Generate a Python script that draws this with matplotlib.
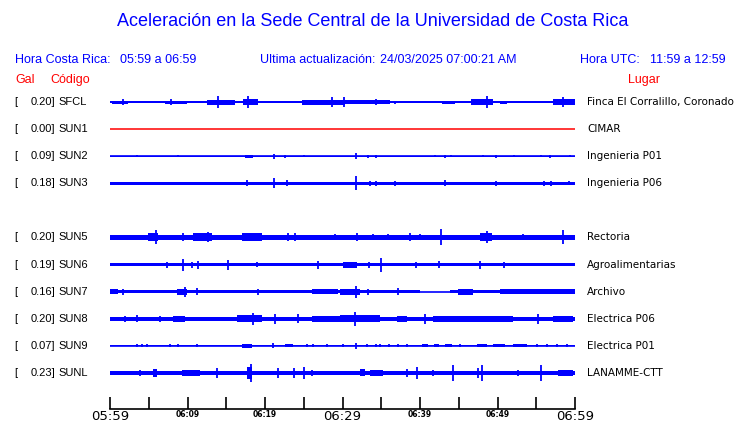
import matplotlib
matplotlib.use("Agg")
import matplotlib.pyplot as plt
import matplotlib.transforms as mtransforms

# estaciones (None = fila vacia, SUN4 no aparece)
codes = ["SFCL", "SUN1", "SUN2", "SUN3", None, "SUN5", "SUN6", "SUN7", "SUN8", "SUN9", "SUNL"]
gal = [0.20, 0.00, 0.09, 0.18, None, 0.20, 0.19, 0.16, 0.20, 0.07, 0.23]
places = ["Finca El Corralillo, Coronado", "CIMAR", "Ingenieria P01", "Ingenieria P06", None,
          "Rectoria", "Agroalimentarias", "Archivo", "Electrica P06", "Electrica P01", "LANAMME-CTT"]

# semi-amplitud del ruido de fondo (px)
base = [0.8, 0.0, 0.5, 1.6, None, 2.4, 1.8, 1.8, 2.2, 0.5, 1.8]

# eventos: (minuto inicio, minuto fin, semi-amplitud px); inicio == fin -> pico
ev_sfcl = [(0.2, 2.3, 1.5), (1.7, 1.7, 3), (3.4, 4.3, 1.3), (5.4, 5.9, 1.3), (7.1, 9.9, 1.5), (7.9, 7.9, 3),
           (11.1, 12.5, 1.3), (12.5, 16.1, 2.5), (13.9, 13.9, 6), (17.2, 19.1, 3), (17.8, 17.8, 6),
           (19.6, 22.2, 1.2), (24.8, 30.3, 2.5), (28.6, 28.6, 5), (29.7, 36.1, 2), (30.2, 30.2, 5),
           (34.3, 34.3, 3), (36.8, 36.8, 1.5), (40.9, 40.9, 1.3), (42.8, 44.5, 1.5), (45.4, 46.1, 1.3),
           (46.6, 49.4, 3), (48.6, 48.6, 6), (50.3, 51.2, 1.5), (57.2, 60.0, 3), (58.5, 58.5, 5)]
ev_sun1 = []
ev_sun2 = [(3.5, 3.5, 1.2), (8.8, 8.8, 1.0), (17.4, 18.5, 1.5), (21.2, 21.2, 2.5), (22.6, 22.6, 1.5),
           (25.0, 25.0, 1.0), (31.7, 31.7, 3), (33.3, 33.3, 1.5), (34.3, 34.3, 1.5), (41.9, 41.9, 1.0),
           (43.2, 43.2, 1.5), (44.0, 44.0, 1.2), (48.1, 48.1, 1.3), (49.8, 49.8, 1.5), (52.1, 52.1, 1.0),
           (55.6, 55.6, 1.0), (56.8, 56.8, 1.5), (59.4, 59.4, 1.0)]
ev_sun3 = [(17.7, 17.7, 3), (21.2, 21.2, 5), (22.8, 22.8, 3), (31.7, 31.7, 7), (33.5, 33.5, 2.5),
           (34.3, 34.3, 2.5), (36.8, 36.8, 2.5), (43.2, 43.2, 3), (49.8, 49.8, 2.5), (56.0, 56.0, 2.5),
           (56.9, 56.9, 2.5), (59.2, 59.2, 2)]
ev_sun5 = [(4.9, 6.2, 4), (5.9, 5.9, 7), (9.4, 9.4, 4), (10.7, 13.2, 4), (12.6, 12.6, 5), (17.0, 19.6, 4),
           (23.0, 23.0, 4), (23.9, 23.9, 4), (29.0, 29.0, 3), (31.9, 31.9, 4), (33.9, 33.9, 3),
           (35.9, 35.9, 3), (38.7, 38.7, 4), (40.0, 40.0, 3), (42.7, 42.7, 8), (47.7, 49.3, 4),
           (48.6, 48.6, 6), (53.3, 53.3, 3), (58.5, 58.5, 7)]
ev_sun6 = [(7.4, 7.4, 3), (9.4, 9.4, 6), (10.6, 10.6, 3), (11.4, 11.4, 4), (15.2, 15.2, 5), (19.0, 19.0, 2.5),
           (26.8, 26.8, 4), (30.1, 31.9, 3), (33.4, 33.4, 3), (35.0, 35.0, 7), (39.5, 39.5, 3),
           (42.5, 42.5, 3.5), (47.7, 47.7, 4), (50.8, 50.8, 3)]
ev_sun7 = [(0.0, 1.0, 2.5), (1.7, 1.7, 3), (8.6, 9.9, 3), (9.7, 9.7, 5), (11.2, 11.2, 3.5), (19.1, 19.1, 3),
           (26.1, 29.4, 2.6), (29.7, 32.3, 3), (31.7, 31.7, 6), (33.3, 33.3, 3), (37.2, 37.2, 3.5),
           (44.9, 46.8, 3), (50.3, 60.0, 2.6)]
gap_sun7 = (40.0, 43.9)  # tramo sin ruido
ev_sun8 = [(1.9, 1.9, 3), (3.5, 3.5, 3.5), (6.5, 6.5, 3), (8.1, 9.7, 3), (16.4, 19.6, 3.5), (18.5, 18.5, 6),
           (21.3, 21.3, 5), (24.3, 24.3, 4.5), (26.1, 30.3, 3), (29.7, 34.8, 3.5), (31.6, 31.6, 7),
           (37.0, 38.3, 3), (40.6, 40.6, 5), (41.7, 52.0, 3), (55.2, 55.2, 5), (57.2, 59.7, 3)]
ev_sun9 = [(3.5, 3.5, 1.5), (4.1, 4.1, 1.5), (4.8, 4.8, 1.5), (7.7, 7.7, 1.5), (8.8, 8.8, 1.5),
           (11.2, 11.2, 1.5), (17.0, 18.3, 1.8), (21.0, 21.0, 2.5), (22.6, 23.6, 1.5), (25.4, 25.4, 1.5),
           (26.2, 26.2, 1.5), (28.0, 28.0, 1.5), (30.1, 30.1, 1.5), (31.7, 31.7, 3), (33.2, 33.2, 1.5),
           (34.3, 34.3, 1.5), (34.8, 34.8, 1.5), (36.0, 36.0, 1.5), (37.2, 37.2, 1.5), (38.3, 38.3, 1.5),
           (40.3, 41.0, 1.5), (41.8, 42.5, 1.5), (43.2, 44.1, 1.5), (45.2, 45.2, 1.5), (47.4, 48.6, 1.5),
           (49.4, 51.0, 1.5), (52.0, 53.8, 1.5), (55.1, 55.1, 1.5), (56.4, 56.4, 1.5), (57.7, 57.7, 1.5),
           (59.0, 59.0, 1.5)]
ev_sunl = [(3.9, 3.9, 3), (5.5, 6.1, 4), (9.3, 11.6, 3), (13.8, 13.8, 5), (17.7, 18.3, 6), (18.2, 18.2, 9),
           (21.7, 21.7, 5), (23.7, 23.7, 5), (25.0, 25.0, 6), (26.1, 26.1, 3), (32.3, 32.9, 3.5),
           (33.5, 35.2, 3), (38.3, 38.3, 4), (39.6, 39.6, 6), (41.7, 41.7, 3), (44.3, 44.3, 8),
           (47.5, 47.5, 5), (48.0, 48.0, 8), (52.6, 52.6, 3), (55.6, 55.6, 8), (57.8, 59.7, 3)]
events = [ev_sfcl, ev_sun1, ev_sun2, ev_sun3, None, ev_sun5, ev_sun6, ev_sun7, ev_sun8, ev_sun9, ev_sunl]

tick_min = list(range(0, 61, 5))
tick_lab = ["05:59", "", "06:09", "", "06:19", "", "06:29", "", "06:39", "", "06:49", "", "06:59"]

BLUE = "#0000ff"
RED = "#ff0000"
PX = 27.1  # px por fila

fig = plt.figure(figsize=(7.4, 4.23), dpi=100)
fig.patch.set_facecolor("white")
ax = fig.add_axes([110 / 740, 14 / 423, 465 / 740, 321 / 423])
ax.set_xlim(0, 60)
ax.set_ylim(11.33, -0.517)

for r, code in enumerate(codes):
    if code is None:
        continue
    if gal[r] == 0:
        ax.plot([0, 60], [r, r], color=RED, lw=1.1)
        continue
    b = base[r] / PX
    if code == "SUN7":
        g0, g1 = gap_sun7
        ax.fill_between([0, g0], r - b, r + b, color=BLUE, lw=0)
        ax.fill_between([g1, 60], r - b, r + b, color=BLUE, lw=0)
    else:
        ax.fill_between([0, 60], r - b, r + b, color=BLUE, lw=0)
    ax.plot([0, 60], [r, r], color=BLUE, lw=1.2)
    for t0, t1, a in events[r]:
        if t0 == t1:
            ax.vlines(t0, r - a / PX, r + a / PX, color=BLUE, lw=1.3)
        else:
            ax.fill_between([t0, t1], r - a / PX, r + a / PX, color=BLUE, lw=0)

for s in ["top", "left", "right"]:
    ax.spines[s].set_visible(False)
ax.spines["bottom"].set_linewidth(1.2)
ax.set_yticks([])
ax.set_xticks(tick_min)
ax.set_xticklabels(tick_lab)
ax.tick_params(axis="x", direction="in", length=9, width=1.2, pad=1)
for lab in ax.get_xticklabels():
    if lab.get_text() in ("05:59", "06:29", "06:59"):
        lab.set_fontsize(9.5)
    else:
        lab.set_fontsize(5.5)
        lab.set_fontweight("bold")

# textos de las filas
hf = "Liberation Sans"
tr = mtransforms.blended_transform_factory(fig.transFigure, ax.transData)
for r, code in enumerate(codes):
    if code is None:
        continue
    ax.text(14 / 740, r, "[", transform=tr, fontsize=8, family=hf, va="center", ha="left")
    ax.text(55 / 740, r, "%.2f]" % gal[r], transform=tr, fontsize=8, family=hf, va="center", ha="right")
    ax.text(58 / 740, r, code, transform=tr, fontsize=8, family=hf, va="center", ha="left")
    ax.text(587 / 740, r, places[r], transform=tr, fontsize=7.5, family="DejaVu Sans",
            va="center", ha="left")

# encabezado
fig.text(0.503, 1 - 22 / 423, "Aceleración en la Sede Central de la Universidad de Costa Rica",
         color=BLUE, fontsize=13, family=hf, ha="center", va="center")
hy = 1 - 60 / 423
fig.text(15 / 740, hy, "Hora Costa Rica:", color=BLUE, fontsize=9, family=hf, va="center")
fig.text(120 / 740, hy, "05:59 a 06:59", color=BLUE, fontsize=9, family=hf, va="center")
fig.text(260 / 740, hy, "Ultima actualización:", color=BLUE, fontsize=9, family=hf, va="center")
fig.text(380 / 740, hy, "24/03/2025 07:00:21 AM", color=BLUE, fontsize=9, family=hf, va="center")
fig.text(580 / 740, hy, "Hora UTC:", color=BLUE, fontsize=9, family=hf, va="center")
fig.text(650 / 740, hy, "11:59 a 12:59", color=BLUE, fontsize=9, family=hf, va="center")
ry = 1 - 80 / 423
fig.text(15 / 740, ry, "Gal", color=RED, fontsize=9, family=hf, va="center")
fig.text(50 / 740, ry, "Código", color=RED, fontsize=9, family=hf, va="center")
fig.text(628 / 740, ry, "Lugar", color=RED, fontsize=9, family=hf, va="center")

fig.savefig("out.png", dpi=100)
